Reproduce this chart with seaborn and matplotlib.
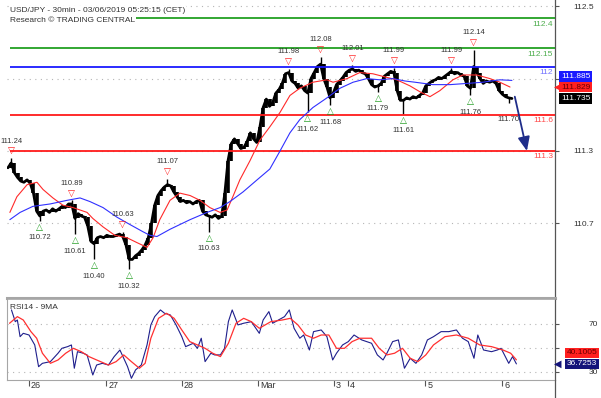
import numpy as np
import matplotlib
matplotlib.use("Agg")
import matplotlib.pyplot as plt
import matplotlib.transforms as mtransforms
from matplotlib.lines import Line2D
import seaborn as sns

# ---------------- data ----------------
# hourly closes, USD/JPY (hour index from start of chart)
close = [
    111.16, 111.20, 111.12, 111.08, 111.05, 111.04, 111.06, 111.03, 110.95, 110.80,
    110.76, 110.80, 110.81, 110.79, 110.82, 110.80, 110.82, 110.84, 110.83, 110.86,
    110.86, 110.74, 110.78, 110.76, 110.75, 110.68, 110.55, 110.53, 110.58, 110.59,
    110.58, 110.60, 110.59, 110.59, 110.60, 110.61, 110.59, 110.52, 110.40, 110.40,
    110.43, 110.45, 110.48, 110.52, 110.58, 110.70, 110.85, 110.93, 110.97, 111.00,
    111.02, 111.01, 110.96, 110.92, 110.88, 110.89, 110.87, 110.88, 110.86, 110.88,
    110.89, 110.80, 110.77, 110.76, 110.75, 110.77, 110.74, 110.76, 110.95, 111.22,
    111.36, 111.40, 111.36, 111.32, 111.33, 111.38, 111.45, 111.40, 111.37, 111.50,
    111.66, 111.73, 111.67, 111.70, 111.78, 111.81, 111.86, 111.94, 111.95, 111.88,
    111.86, 111.82, 111.84, 111.80, 111.78, 111.90, 111.95, 112.00, 112.02, 111.90,
    111.83, 111.74, 111.78, 111.85, 111.88, 111.91, 111.95, 111.97, 111.98, 111.96,
    111.97, 111.95, 111.94, 111.90, 111.85, 111.83, 111.84, 111.86, 111.92, 111.94,
    111.96, 111.95, 111.80, 111.72, 111.72, 111.74, 111.73, 111.75, 111.74, 111.76,
    111.78, 111.84, 111.86, 111.88, 111.89, 111.91, 111.90, 111.92, 111.94, 111.96,
    111.94, 111.95, 111.93, 111.92, 111.84, 111.82, 112.00, 111.95, 111.90, 111.86,
    111.88, 111.87, 111.88, 111.86, 111.80, 111.77, 111.75, 111.74, 111.735]

# labelled swing highs / lows
swing_h = [1, 10, 20, 21, 27, 36, 38, 50, 63, 88, 94, 98, 101, 108, 116, 121, 124, 139, 145, 146, 157]
swing_p = [111.24, 110.72, 110.89, 110.61, 110.40, 110.63, 110.32, 111.07, 110.63, 111.98, 111.62,
           112.08, 111.68, 112.01, 111.79, 111.99, 111.61, 111.99, 111.76, 112.14, 111.70]
swing_kind = ['H', 'L', 'H', 'L', 'L', 'H', 'L', 'H', 'L', 'H', 'L',
              'H', 'L', 'H', 'L', 'H', 'L', 'H', 'L', 'H', 'l']

# moving averages on price
red_ma_h = [0.6, 2.8, 6.0, 9.1, 11.0, 14.1, 17.2, 20.4, 24.8, 26.6, 29.8, 33.5, 37.3, 40.4, 43.6,
            45.5, 47.6, 50.8, 53.9, 57.1, 60.2, 63.3, 66.5, 68.7, 70.5, 72.7, 75.9, 79.0, 82.1, 85.3,
            88.4, 91.5, 95.6, 100.0, 101.9, 106.3, 110.3, 114.4, 118.8, 121.9, 126.0, 129.2, 132.3,
            135.4, 139.5, 142.6, 147.0, 151.1, 154.2, 157.4]
red_ma_v = [110.79, 110.92, 111.02, 111.04, 110.98, 110.91, 110.85, 110.83, 110.79, 110.74,
            110.67, 110.60, 110.58, 110.54, 110.50, 110.58, 110.73, 110.89, 110.95, 110.93,
            110.89, 110.83, 110.79, 110.81, 110.92, 111.06, 111.22, 111.39, 111.50, 111.62,
            111.76, 111.82, 111.87, 111.89, 111.87, 111.90, 111.95, 111.94, 111.91, 111.89,
            111.84, 111.79, 111.75, 111.80, 111.89, 111.93, 111.93, 111.90, 111.87, 111.83]
blue_ma_h = [0.6, 3.8, 7.8, 13.2, 18.5, 22.6, 25.7, 29.8, 34.2, 38.2, 42.3, 44.5, 46.7, 50.8, 57.1,
             62.4, 66.5, 69.6, 73.7, 78.1, 82.1, 85.3, 88.4, 91.5, 95.6, 100.0, 104.1, 108.2, 112.5,
             116.6, 120.7, 124.5, 127.6, 133.2, 138.6, 143.9, 148.9, 154.2, 158.0]
blue_ma_v = [110.73, 110.79, 110.84, 110.86, 110.89, 110.91, 110.88, 110.83, 110.75, 110.69,
             110.63, 110.60, 110.59, 110.65, 110.73, 110.79, 110.83, 110.88, 110.96, 111.06,
             111.15, 111.30, 111.45, 111.56, 111.66, 111.74, 111.82, 111.87, 111.90, 111.89,
             111.90, 111.88, 111.87, 111.85, 111.85, 111.86, 111.87, 111.89, 111.885]

# support / resistance levels
level_p = [112.4, 112.15, 112.0, 111.6, 111.3]
level_lab = ['112.4', '112.15', '112', '111.6', '111.3']
level_col = ['#22a022', '#22a022', '#1a1aff', '#ff1a1a', '#ff1a1a']
level_txt_col = ['#4fae4f', '#4fae4f', '#7373ff', '#ff4a4a', '#ff4a4a']

# projected move arrow (hour, price)
arrow_h = [158.9, 162.7]
arrow_p = [111.75, 111.30]

# RSI14 and its 9MA
rsi_h = [1.1, 2.3, 2.95, 3.8, 4.8, 6.6, 8.4, 9.6, 10.8, 13.3, 15.7, 16.9, 18.7, 19.9, 20.8, 21.8,
         23.6, 24.8, 26.6, 27.8, 29.6, 31.5, 33.3, 35.1, 36.3, 37.5, 38.7, 40.0, 41.8, 43.6, 44.8,
         46.0, 47.8, 49.1, 50.9, 52.7, 54.5, 55.7, 58.1, 59.4, 60.6, 61.8, 63.6, 64.8, 66.6, 67.9,
         69.1, 70.3, 72.1, 73.9, 76.3, 78.8, 80.0, 81.8, 83.0, 84.8, 86.7, 88.2, 89.7, 91.5, 92.7,
         94.5, 95.8, 98.2, 100.0, 101.8, 103.0, 104.9, 106.7, 108.5, 110.9, 114.0, 115.8, 117.6,
         118.8, 120.6, 122.4, 124.3, 126.1, 127.9, 129.7, 131.5, 133.4, 135.8, 138.2, 140.6, 142.5,
         144.3, 146.1, 147.3, 149.1, 151.6, 153.4, 154.6, 157.0, 158.2, 159.4]
rsi_v = [81.7, 71.9, 73.3, 59.4, 62.2, 60.8, 52.5, 34.4, 37.2, 38.6, 45.6, 49.7, 51.1, 52.5, 33.1,
         46.9, 45.6, 44.2, 27.5, 35.8, 37.2, 35.8, 42.8, 48.3, 41.4, 34.4, 24.7, 31.7, 35.8, 52.5,
         69.2, 76.1, 81.7, 78.9, 77.5, 69.2, 59.4, 51.1, 53.9, 49.7, 58.1, 38.6, 45.6, 44.2, 44.2,
         49.7, 71.9, 81.7, 69.2, 70.6, 71.9, 62.2, 73.3, 80.3, 70.6, 73.3, 76.1, 81.7, 66.4, 58.1,
         60.8, 48.3, 63.6, 65.0, 59.4, 40.0, 45.6, 52.5, 55.3, 60.8, 56.7, 53.9, 44.2, 40.0, 45.6,
         55.3, 56.7, 33.1, 41.4, 37.2, 44.2, 56.7, 59.4, 63.6, 63.6, 65.0, 58.1, 55.3, 41.4, 60.8,
         48.3, 46.9, 48.3, 49.7, 37.2, 42.8, 36.7253]
rsi_ma_h = [0.5, 2.95, 4.8, 7.2, 9.0, 10.8, 13.3, 15.7, 18.1, 20.5, 23.0, 25.4, 27.8, 31.5, 33.9,
            36.3, 38.7, 41.2, 43.0, 44.8, 47.2, 49.7, 52.1, 54.5, 57.0, 59.4, 61.8, 64.2, 66.6,
            69.1, 71.5, 73.9, 76.3, 78.8, 82.4, 86.0, 88.5, 90.9, 93.3, 95.8, 98.2, 100.6, 103.0,
            105.5, 107.9, 110.3, 114.0, 116.4, 118.8, 121.2, 123.7, 126.1, 128.5, 131.0, 133.4,
            137.0, 140.6, 144.3, 147.9, 151.6, 155.2, 157.6, 159.4]
rsi_ma_v = [70.6, 76.1, 73.3, 63.6, 58.1, 45.6, 37.2, 40.0, 45.6, 49.7, 46.9, 42.8, 40.0, 35.8,
            38.6, 44.2, 38.6, 33.1, 37.2, 58.1, 74.7, 78.9, 74.7, 65.0, 55.3, 52.5, 49.7, 45.6,
            42.8, 53.9, 70.6, 74.7, 71.9, 66.4, 71.9, 73.3, 74.7, 69.2, 60.8, 58.1, 60.8, 60.8,
            49.7, 49.7, 55.3, 58.1, 58.1, 49.7, 44.2, 45.6, 49.7, 41.4, 38.6, 44.2, 52.5, 59.4,
            60.8, 58.1, 52.5, 51.1, 48.3, 45.6, 40.1005]

# axis labels (labels hidden behind the value boxes in the reference are left blank)
price_ticks = [112.5, 111.9, 111.3, 110.7]
price_tick_lab = ['112.5', '', '111.3', '110.7']
rsi_ticks = [30, 50, 70]
rsi_tick_lab = ['30', '', '70']
date_h = [6.6, 30.8, 54.5, 78.5, 102.1, 106.7, 130.9, 154.9]
date_lab = ['26', '27', '28', 'Mar', '3', '4', '5', '6']

# ---------------- drawing ----------------
sns.set_theme(style='white')
plt.rcParams['font.family'] = ['Liberation Sans', 'DejaVu Sans']

W, H = 601, 398
fig = plt.figure(figsize=(W / 100, H / 100), dpi=100, facecolor='white')
ax = fig.add_axes([7 / W, 1 - 298 / H, 548 / W, 298 / H])
ax2 = fig.add_axes([7 / W, 18 / H, 548 / W, 81 / H])
XMIN, XMAX = -0.3, 171.5

hours = np.arange(len(close))
c = np.array(close)
prev = np.r_[c[0], c[:-1]]

# grid
for a in (ax, ax2):
    a.grid(axis='y', linestyle=(0, (1, 4)), color='#b5b5b5', lw=0.8)
    a.grid(axis='x', visible=False)
    a.set_facecolor('white')

# candles
ax.vlines(hours, np.minimum(prev, c), np.maximum(prev, c), color='black', lw=2.6, zorder=3)
sns.lineplot(x=hours, y=c, ax=ax, color='black', lw=2.0, zorder=3)
sh = np.array(swing_h)
ax.vlines(sh, c[sh], swing_p, color='black', lw=1.0, zorder=3)

# levels (drawn over the candles, as in the reference)
ax.hlines(level_p, 0.6, XMAX, colors=level_col, lw=1.3, zorder=3.5)

# moving averages
sns.lineplot(x=red_ma_h, y=red_ma_v, ax=ax, color='#ff2a2a', lw=0.8, zorder=4)
sns.lineplot(x=blue_ma_h, y=blue_ma_v, ax=ax, color='#3030ff', lw=0.8, zorder=4)

# swing markers
for hh, pp, kk in zip(swing_h, swing_p, swing_kind):
    if kk == 'H':
        ax.annotate('\u25BD', xy=(hh, pp), xytext=(0, 6.5), textcoords='offset pixels',
                    ha='center', va='center', fontsize=6.5, color='#ff1a1a', family='DejaVu Sans', zorder=5)
        ax.annotate(f'{pp:.2f}', xy=(hh, pp), xytext=(0, 17), textcoords='offset pixels',
                    ha='center', va='center', fontsize=5.5, color='#333333', zorder=5)
    else:
        if kk == 'L':
            ax.annotate('\u25B3', xy=(hh, pp), xytext=(0, -6.5), textcoords='offset pixels',
                        ha='center', va='center', fontsize=6.5, color='#1a9a1a', family='DejaVu Sans', zorder=5)
        ax.annotate(f'{pp:.2f}', xy=(hh, pp), xytext=(0, -17), textcoords='offset pixels',
                    ha='center', va='center', fontsize=5.5, color='#333333', zorder=5)

# projection arrow
ax.annotate('', xy=(arrow_h[1], arrow_p[1]), xytext=(arrow_h[0], arrow_p[0]),
            arrowprops=dict(arrowstyle='-|>,head_length=0.7,head_width=0.3', color='#1f2d8a',
                            lw=1.3, shrinkA=0, shrinkB=0), zorder=6)

# level labels
tr = mtransforms.blended_transform_factory(ax.transAxes, ax.transData)
for p, lab, col in zip(level_p, level_lab, level_txt_col):
    ax.annotate(lab, xy=(1, p), xycoords=tr, xytext=(-2, -6), textcoords='offset pixels',
                ha='right', va='center', fontsize=6, color=col)

# value boxes on right
def vbox(a, trans, y, txt, fc, tc, dy, dx=6, arrow=None):
    a.annotate(txt, xy=(1, y), xycoords=trans, xytext=(dx, dy), textcoords='offset pixels',
               ha='left', va='center', fontsize=6, color=tc, annotation_clip=False, zorder=10,
               bbox=dict(boxstyle='square,pad=0.2', fc=fc, ec='none'))
    if arrow:
        a.annotate('\u25C0', xy=(1, y), xycoords=trans, xytext=(-1, dy), textcoords='offset pixels',
                   ha='left', va='center', fontsize=7, color=arrow, family='DejaVu Sans',
                   annotation_clip=False, zorder=10)

vbox(ax, tr, blue_ma_v[-1], f'{blue_ma_v[-1]:.3f}', '#1a1aff', 'white', 4)
vbox(ax, tr, red_ma_v[-1], '111.829', '#ff2020', '#6b0000', 0, arrow='#ff2020')
vbox(ax, tr, close[-1], f'{close[-1]:.3f}', 'black', 'white', 0)

ax.set_xlim(XMIN, XMAX)
ax.set_ylim(110.08, 112.552)
ax.set_xticks([])
ax.yaxis.tick_right()
ax.set_yticks(price_ticks)
ax.set_yticklabels(price_tick_lab)
ax.tick_params(axis='y', right=True, left=False, length=3, width=0.8, color='#555555',
               pad=10, labelsize=6, labelcolor='#333333')
ax.set_xlabel('')
ax.set_ylabel('')
for s in ('top', 'left'):
    ax.spines[s].set_visible(False)
ax.spines['right'].set_color('#555555')
ax.spines['right'].set_linewidth(0.9)
ax.spines['bottom'].set_color('#a6a6a6')
ax.spines['bottom'].set_linewidth(2.2)

# ---------------- RSI panel ----------------
sns.lineplot(x=rsi_h, y=rsi_v, ax=ax2, color='#1e1e8c', lw=0.8, zorder=3)
sns.lineplot(x=rsi_ma_h, y=rsi_ma_v, ax=ax2, color='#ff3030', lw=0.9, zorder=4)
ax2.set_xlim(XMIN, XMAX)
ax2.set_ylim(23.3, 90.8)
ax2.yaxis.tick_right()
ax2.set_yticks(rsi_ticks)
ax2.set_yticklabels(rsi_tick_lab)
ax2.tick_params(axis='y', right=True, left=False, length=3, width=0.8, color='#555555',
                pad=21, labelsize=6, labelcolor='#333333')
ax2.set_xticks(date_h)
ax2.set_xticklabels([])
ax2.tick_params(axis='x', bottom=True, length=4, width=0.8, color='#555555', direction='out')
ax2.set_xlabel('')
ax2.set_ylabel('')
for s in ('top', 'left', 'bottom'):
    ax2.spines[s].set_color('#a6a6a6')
    ax2.spines[s].set_linewidth(0.8)
ax2.spines['top'].set_linewidth(1.2)
ax2.spines['right'].set_color('#555555')
ax2.spines['right'].set_linewidth(0.9)

trx = mtransforms.blended_transform_factory(ax2.transData, ax2.transAxes)
for hh, lab in zip(date_h, date_lab):
    ax2.annotate(lab, xy=(hh, 0), xycoords=trx, xytext=(2, -6), textcoords='offset pixels',
                 ha='left', va='center', fontsize=6.5, color='#333333', annotation_clip=False)

tr2 = mtransforms.blended_transform_factory(ax2.transAxes, ax2.transData)
vbox(ax2, tr2, rsi_ma_v[-1], f'{rsi_ma_v[-1]:.4f}', '#ff2020', '#6b0000', 7, dx=12)
vbox(ax2, tr2, rsi_v[-1], f'{rsi_v[-1]:.4f}', '#14147a', 'white', 0, dx=12, arrow='#14147a')

ax2.text(0.005, 0.9, 'RSI14 - 9MA', transform=ax2.transAxes, fontsize=6, ha='left',
         va='center', color='#333333')

# right axis line continuing to the bottom
fig.add_artist(Line2D([555 / W, 555 / W], [0, 18 / H], transform=fig.transFigure,
                      color='#555555', lw=0.9))

# titles
fig.text(10 / W, 1 - 10 / H, 'USD/JPY - 30min - 03/06/2019 05:25:15 (CET)', fontsize=6,
         color='#333333', ha='left', va='center',
         bbox=dict(boxstyle='square,pad=0.1', fc='white', ec='none'))
fig.text(10 / W, 1 - 21 / H, 'Research \u00a9 TRADING CENTRAL', fontsize=6,
         color='#333333', ha='left', va='center',
         bbox=dict(boxstyle='square,pad=0.1', fc='white', ec='none'))

fig.savefig('out.png', dpi=100, facecolor='white')
